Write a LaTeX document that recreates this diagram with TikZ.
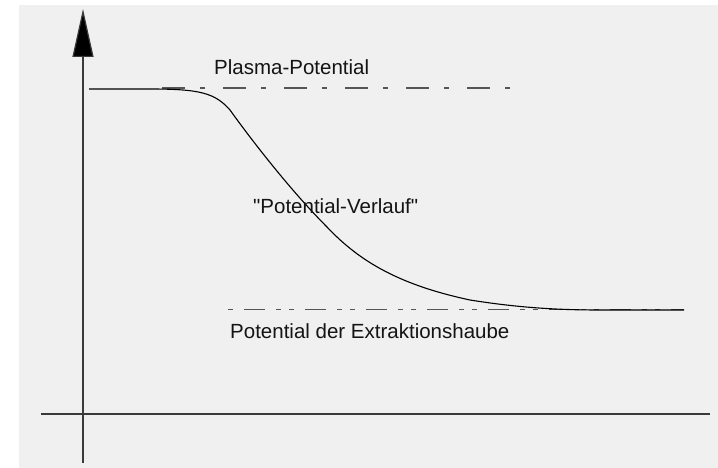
\documentclass[tikz,border=0pt]{standalone}
\usepackage{fontspec}
\setmainfont[Ligatures=NoCommon]{Liberation Sans}
\usetikzlibrary{arrows.meta}
\definecolor{bggray}{HTML}{F0F0F0}
\definecolor{axisgray}{HTML}{3A3A3A}
\definecolor{dashgray}{HTML}{555555}
\definecolor{txt}{HTML}{141414}
\tikzset{
  axisline/.style={draw=axisgray, line width=1.2pt},
  levelline/.style={draw=dashgray, line width=1.5pt},
  curveline/.style={draw=black, line width=1.1pt, line join=round},
  lbl/.style={anchor=base west, inner sep=0pt, text=txt, font=\fontsize{20.5}{24}\selectfont},
}
\begin{document}
\begin{tikzpicture}[x=1pt,y=-1pt]
\useasboundingbox (0,0) rectangle (718,468);
\fill[bggray] (19,5) rectangle (718,468);
% axes
\coordinate (ybot) at (83,463);
\coordinate (ytop) at (83,9);
\coordinate (xl) at (41,414);
\coordinate (xr) at (710,414);
\draw[axisline, -{Triangle[length=48pt,width=21pt,fill=black]}] (ybot) -- (ytop);
\draw[axisline] (xl) -- (xr);
% level lines
\coordinate (pl) at (162,88);
\coordinate (pr) at (515,88);
\draw[levelline, dash pattern=on 23pt off 15pt on 5pt off 18pt] (pl) -- (pr);
\coordinate (el) at (228,309.5);
\coordinate (er) at (684,309.5);
\draw[levelline, dash pattern=on 5pt off 11pt on 21pt off 11pt on 5pt off 8pt] (el) -- (er);
% curve
\coordinate (cs) at (89,89);
\coordinate (ce) at (684,310);
\draw[curveline] (cs) -- (150,89)
  .. controls (200,89) and (215,93) .. (230,110)
  .. controls (250,138) and (290,190) .. (327,227)
  .. controls (360,262) and (400,285) .. (470,300)
  .. controls (520,308) and (560,310) .. (600,310)
  -- (ce);
% labels
\node[lbl] (plasma) at (214,75) {Plasma-Potential};
\node[lbl] (verlauf) at (253,213.5) {\textquotedbl Potential-Verlauf\textquotedbl};
\node[lbl] (haube) at (230,338.5) {Potential der Extraktionshaube};
\end{tikzpicture}
\end{document}
